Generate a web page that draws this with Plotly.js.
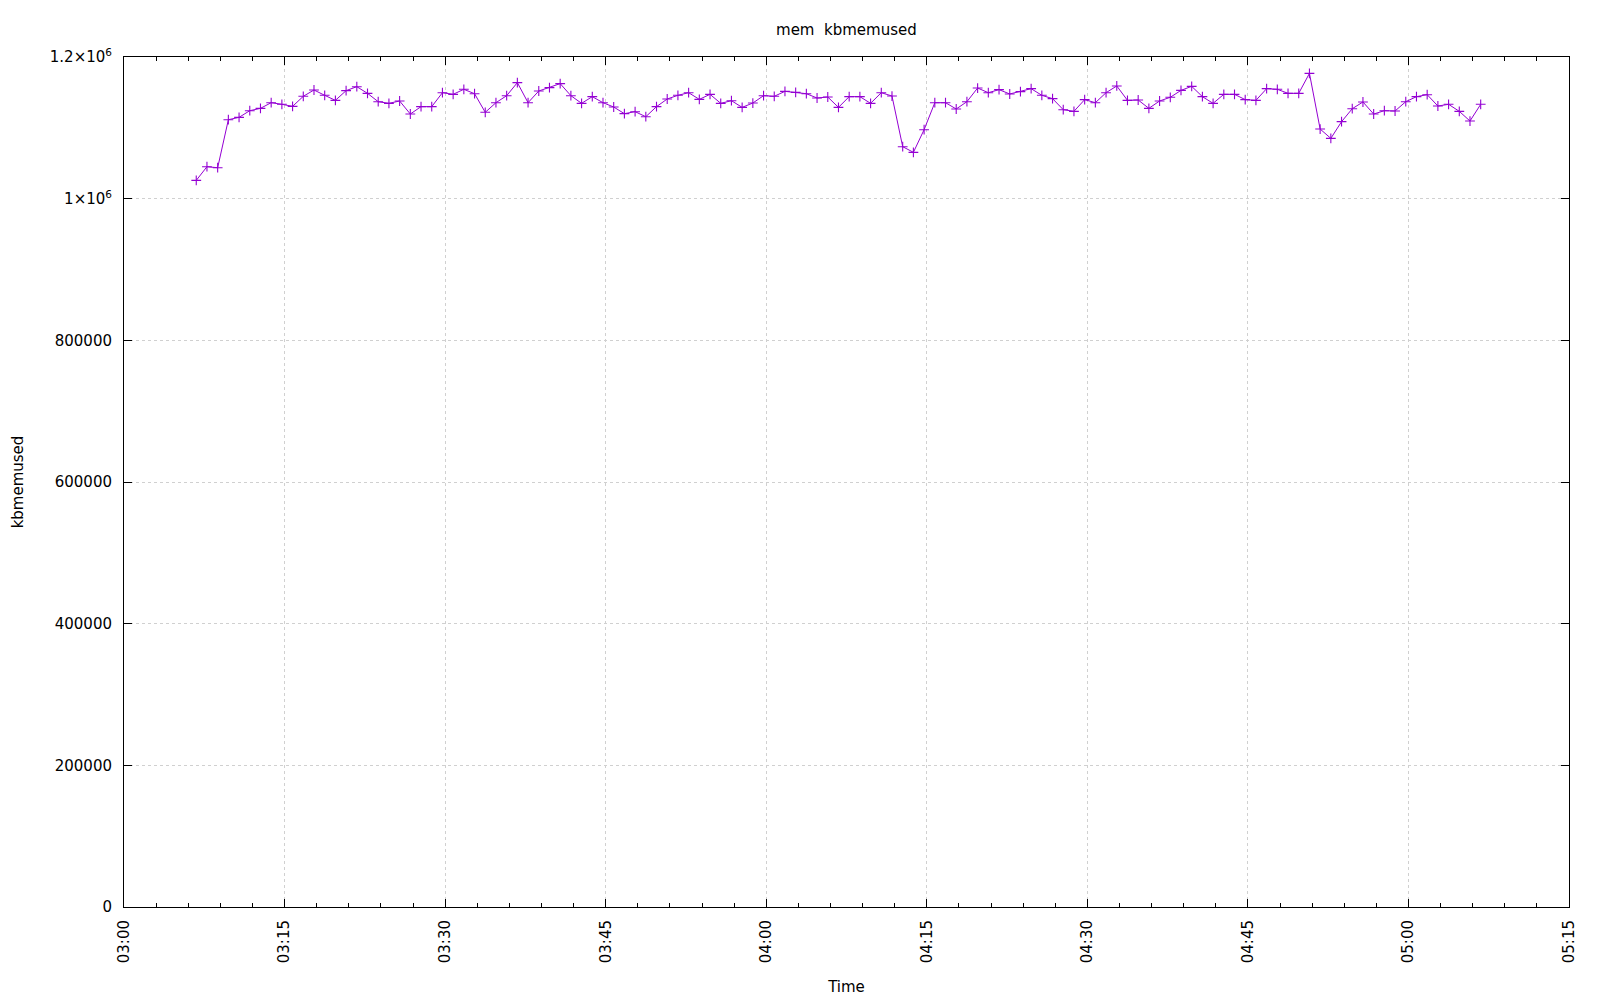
<!DOCTYPE html>
<html>
<head>
<meta charset="utf-8">
<script src="https://cdn.plot.ly/plotly-3.0.1.min.js"></script>
<style>html,body{margin:0;padding:0;background:#fff;}#chart{width:1600px;height:1000px;}</style>
</head>
<body>
<div id="chart"></div>
<script>
// Sample times (HH:MM), one sample per minute, each at :45 seconds
const sampleMinutes = [
  "03:06","03:07","03:08","03:09","03:10","03:11","03:12","03:13","03:14","03:15",
  "03:16","03:17","03:18","03:19","03:20","03:21","03:22","03:23","03:24","03:25",
  "03:26","03:27","03:28","03:29","03:30","03:31","03:32","03:33","03:34","03:35",
  "03:36","03:37","03:38","03:39","03:40","03:41","03:42","03:43","03:44","03:45",
  "03:46","03:47","03:48","03:49","03:50","03:51","03:52","03:53","03:54","03:55",
  "03:56","03:57","03:58","03:59","04:00","04:01","04:02","04:03","04:04","04:05",
  "04:06","04:07","04:08","04:09","04:10","04:11","04:12","04:13","04:14","04:15",
  "04:16","04:17","04:18","04:19","04:20","04:21","04:22","04:23","04:24","04:25",
  "04:26","04:27","04:28","04:29","04:30","04:31","04:32","04:33","04:34","04:35",
  "04:36","04:37","04:38","04:39","04:40","04:41","04:42","04:43","04:44","04:45",
  "04:46","04:47","04:48","04:49","04:50","04:51","04:52","04:53","04:54","04:55",
  "04:56","04:57","04:58","04:59","05:00","05:01","05:02","05:03","05:04","05:05",
  "05:06"
];
const sampleSeconds = "45";

// kbmemused values
const kbmemused = [
  1025800,1045100,1043700,1111500,1114800,1124200,1127500,1135500,1133200,1130300,
  1144500,1153400,1145900,1138800,1152500,1158100,1148700,1136900,1134600,1137900,
  1119500,1129900,1129900,1149600,1147300,1154400,1148200,1121900,1135500,1145400,
  1163800,1135500,1152000,1156700,1162400,1145400,1134600,1144000,1135500,1129400,
  1120000,1122800,1115700,1129900,1140700,1145900,1149600,1140200,1147300,1134600,
  1138300,1128900,1135000,1145400,1144500,1151500,1150100,1148200,1142100,1143500,
  1128900,1144000,1144000,1134600,1149600,1144900,1073400,1065400,1097400,1135500,
  1135500,1126600,1136900,1156200,1149600,1153900,1147800,1151100,1155300,1145900,
  1141200,1125600,1123300,1139800,1135500,1149600,1159100,1138800,1139300,1127500,
  1137900,1143100,1152900,1158600,1144000,1134600,1147300,1147300,1139800,1138800,
  1155300,1154400,1148700,1148700,1176900,1098300,1085100,1108700,1127000,1136500,
  1119500,1124200,1123800,1136900,1144000,1146800,1130800,1133200,1123300,1109600,
  1133200
];

// Axis ticks
const yTickVals = [0, 200000, 400000, 600000, 800000, 1000000, 1200000];
const yTickText = ["0", "200000", "400000", "600000", "800000", "1×10<sup>6</sup>", "1.2×10<sup>6</sup>"];
const xRangeStart = "03:00";
const xRangeEnd = "05:15";
const day = "2000-01-01 ";

const xs = sampleMinutes.map(m => day + m + ":" + sampleSeconds);

const font = "DejaVu Sans, sans-serif";
const lineColor = "#9400d3";

const trace = {
  x: xs,
  y: kbmemused,
  type: "scatter",
  mode: "lines+markers",
  line: {color: lineColor, width: 1},
  marker: {symbol: "cross-thin", size: 7, line: {color: lineColor, width: 1.1}, color: lineColor},
  hoverinfo: "x+y",
  showlegend: false
};

const layout = {
  width: 1600,
  height: 1000,
  paper_bgcolor: "#ffffff",
  plot_bgcolor: "#ffffff",
  margin: {l: 124, r: 31, t: 57, b: 93, pad: 0},
  font: {family: font, size: 15, color: "#000"},
  title: {text: "mem\u00a0 kbmemused", x: 0.529, xanchor: "center", y: 0.97, yanchor: "middle", font: {family: font, size: 15, color: "#000"}},
  xaxis: {
    type: "date",
    range: [day + xRangeStart, day + xRangeEnd],
    dtick: 900000,
    tick0: day + xRangeStart,
    tickformat: "%H:%M",
    tickangle: -90,
    ticks: "inside",
    ticklen: 8,
    tickcolor: "#000",
    tickwidth: 1,
    showline: true,
    linecolor: "#000",
    linewidth: 1,
    mirror: "allticks",
    showgrid: true,
    gridcolor: "#d0d0d0",
    griddash: "dot",
    gridwidth: 1,
    zeroline: false,
    minor: {dtick: 180000, ticks: "inside", ticklen: 4, tickcolor: "#000", showgrid: false},
    ticklabelstandoff: 6,
    title: {text: "Time", standoff: 19, font: {family: font, size: 15, color: "#000"}},
    tickfont: {family: font, size: 15, color: "#000"}
  },
  yaxis: {
    range: [0, 1200000],
    tickvals: yTickVals,
    ticktext: yTickText,
    ticks: "inside",
    ticklen: 8,
    tickcolor: "#000",
    showline: true,
    linecolor: "#000",
    linewidth: 1,
    mirror: "allticks",
    showgrid: true,
    gridcolor: "#d0d0d0",
    griddash: "dot",
    gridwidth: 1,
    zeroline: false,
    ticklabelstandoff: 8,
    title: {text: "kbmemused", standoff: 22, font: {family: font, size: 15, color: "#000"}},
    tickfont: {family: font, size: 15, color: "#000"}
  }
};

Plotly.newPlot("chart", [trace], layout, {displayModeBar: false, staticPlot: false});
</script>
</body>
</html>
